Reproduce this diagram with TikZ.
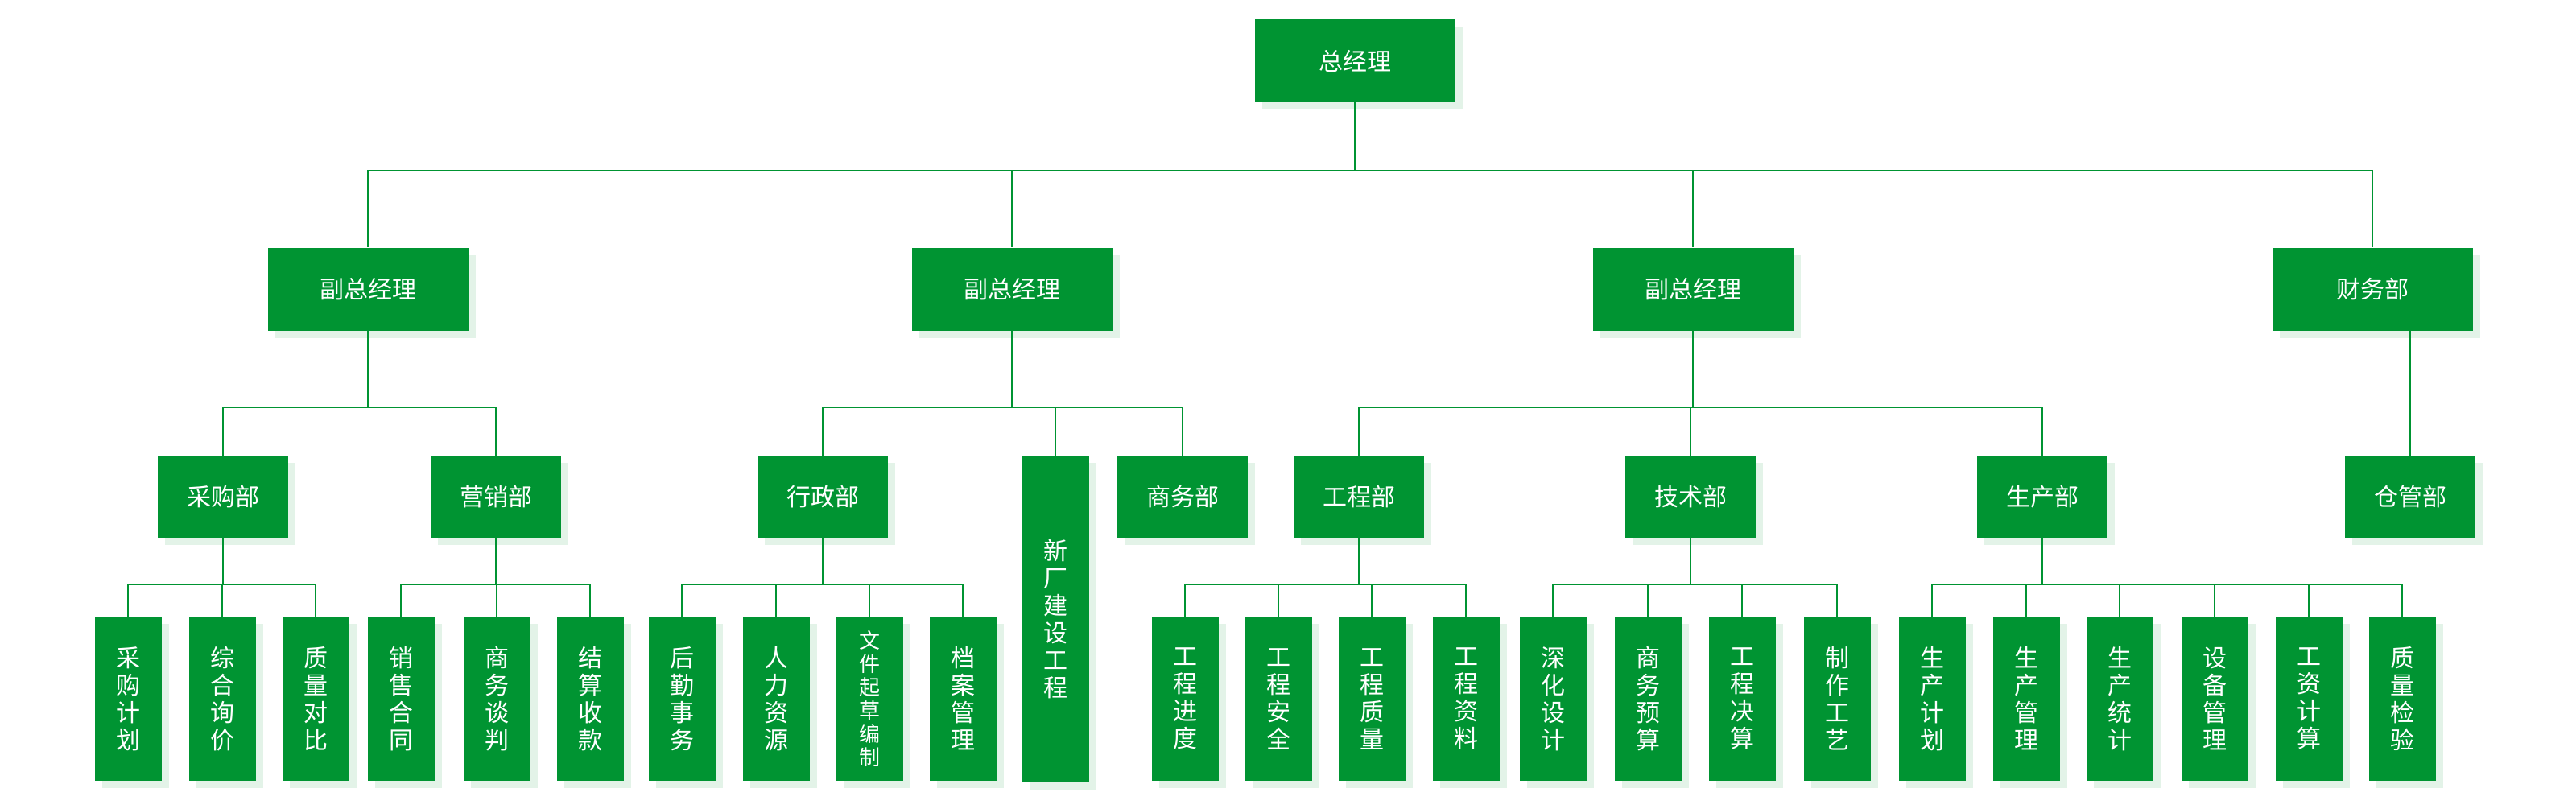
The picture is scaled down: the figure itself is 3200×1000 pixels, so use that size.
\documentclass[tikz,border=0pt]{standalone}
\usepackage{fontspec}
\setmainfont{Noto Sans CJK SC}
\usetikzlibrary{shadows}
\definecolor{gr}{HTML}{009432}
\definecolor{sh}{HTML}{E3F3E8}
\tikzset{
  box/.style={fill=gr,text=white,inner sep=0pt,align=center,
    font=\fontsize{30}{34}\selectfont,
    drop shadow={shadow xshift=9pt,shadow yshift=-9pt,fill=sh,opacity=1}},
  big/.style={box,minimum width=249pt,minimum height=103pt},
  mid/.style={box,minimum width=162pt,minimum height=102pt},
  leaf/.style={box,minimum width=83pt,minimum height=204pt},
  ln/.style={draw=gr,line width=2.5pt}
}
\begin{document}
\begin{tikzpicture}[x=1pt,y=-1pt]
\useasboundingbox (0,0) rectangle (3200,1000);
\coordinate (L1) at (0,212);
\coordinate (L2) at (0,506);
\coordinate (L3) at (0,726);
\node[big] (gm) at (1683,75.5) {总经理};
\node[big] (v1) at (457,359) {副总经理};
\node[big] (v2) at (1257,359) {副总经理};
\node[big] (v3) at (2103,359) {副总经理};
\node[big] (fin) at (2947,359) {财务部};
\node[mid] (cg) at (277,617) {采购部};
\node[mid] (yx) at (616,617) {营销部};
\node[mid] (xz) at (1022,617) {行政部};
\node[box,minimum width=83pt,minimum height=406pt] (xc) at (1311,769) {新\\厂\\建\\设\\工\\程};
\node[mid] (sw) at (1469,617) {商务部};
\node[mid] (gc) at (1688,617) {工程部};
\node[mid] (js) at (2100,617) {技术部};
\node[mid] (sc) at (2537,617) {生产部};
\node[mid] (cgb) at (2994,617) {仓管部};
% leaves
\node[leaf] (a1) at (159,868) {采\\购\\计\\划};
\node[leaf] (a2) at (276,868) {综\\合\\询\\价};
\node[leaf] (a3) at (392,868) {质\\量\\对\\比};
\node[leaf] (b1) at (498,868) {销\\售\\合\\同};
\node[leaf] (b2) at (617,868) {商\\务\\谈\\判};
\node[leaf] (b3) at (733,868) {结\\算\\收\\款};
\node[leaf] (c1) at (847,868) {后\\勤\\事\\务};
\node[leaf] (c2) at (964,868) {人\\力\\资\\源};
\node[leaf,font=\fontsize{26}{29}\selectfont] (c3) at (1080,868) {文\\件\\起\\草\\编\\制};
\node[leaf] (c4) at (1196,868) {档\\案\\管\\理};
\node[leaf] (d1) at (1472,868) {工\\程\\进\\度};
\node[leaf] (d2) at (1588,868) {工\\程\\安\\全};
\node[leaf] (d3) at (1704,868) {工\\程\\质\\量};
\node[leaf] (d4) at (1821,868) {工\\程\\资\\料};
\node[leaf] (e1) at (1929,868) {深\\化\\设\\计};
\node[leaf] (e2) at (2047,868) {商\\务\\预\\算};
\node[leaf] (e3) at (2164,868) {工\\程\\决\\算};
\node[leaf] (e4) at (2282,868) {制\\作\\工\\艺};
\node[leaf] (f1) at (2400,868) {生\\产\\计\\划};
\node[leaf] (f2) at (2517,868) {生\\产\\管\\理};
\node[leaf] (f3) at (2633,868) {生\\产\\统\\计};
\node[leaf] (f4) at (2751,868) {设\\备\\管\\理};
\node[leaf] (f5) at (2868,868) {工\\资\\计\\算};
\node[leaf] (f6) at (2984,868) {质\\量\\检\\验};
% connectors
\foreach \c in {v1,v2,v3,fin} \draw[ln] (gm.south) -- (gm.south |- L1) -| (\c.north);
\foreach \c in {cg,yx} \draw[ln] (v1.south) -- (v1.south |- L2) -| (\c.north);
\foreach \c in {xz,xc,sw} \draw[ln] (v2.south) -- (v2.south |- L2) -| (\c.north);
\foreach \c in {gc,js,sc} \draw[ln] (v3.south) -- (v3.south |- L2) -| (\c.north);
\draw[ln] (fin.south -| cgb.north) -- (cgb.north);
\foreach \c in {a1,a2,a3} \draw[ln] (cg.south) -- (cg.south |- L3) -| (\c.north);
\foreach \c in {b1,b2,b3} \draw[ln] (yx.south) -- (yx.south |- L3) -| (\c.north);
\foreach \c in {c1,c2,c3,c4} \draw[ln] (xz.south) -- (xz.south |- L3) -| (\c.north);
\foreach \c in {d1,d2,d3,d4} \draw[ln] (gc.south) -- (gc.south |- L3) -| (\c.north);
\foreach \c in {e1,e2,e3,e4} \draw[ln] (js.south) -- (js.south |- L3) -| (\c.north);
\foreach \c in {f1,f2,f3,f4,f5,f6} \draw[ln] (sc.south) -- (sc.south |- L3) -| (\c.north);
\end{tikzpicture}
\end{document}
